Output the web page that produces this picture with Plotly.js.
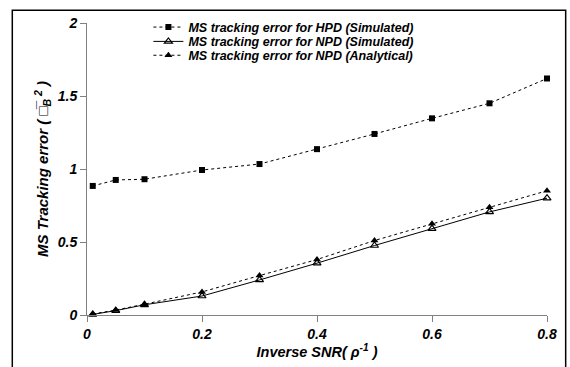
<!DOCTYPE html>
<html>
<head>
<meta charset="utf-8">
<script src="https://cdn.plot.ly/plotly-3.0.1.min.js"></script>
<style>
html,body{margin:0;padding:0;background:#fff;}
#chart{width:570px;height:367px;}
</style>
</head>
<body>
<div id="chart"></div>
<script>
// Data
var inverseSNR = [0.01, 0.05, 0.1, 0.2, 0.3, 0.4, 0.5, 0.6, 0.7, 0.8];
var hpdSimulated = [0.884, 0.925, 0.93, 0.993, 1.034, 1.136, 1.24, 1.347, 1.45, 1.62];
var npdSimulated = [0.004, 0.03, 0.07, 0.13, 0.24, 0.355, 0.476, 0.591, 0.706, 0.80];
var npdAnalytical = [0.007, 0.034, 0.074, 0.158, 0.27, 0.38, 0.51, 0.625, 0.738, 0.851];
var seriesNames = [
  'MS tracking error for HPD (Simulated)',
  'MS tracking error for NPD (Simulated)',
  'MS tracking error for NPD (Analytical)'
];
var xTicks = [0, 0.2, 0.4, 0.6, 0.8];
var xTickLabels = ['0', '0.2', '0.4', '0.6', '0.8'];
var yTicks = [0, 0.5, 1, 1.5, 2];
var yTickLabels = ['0', '0.5', '1', '1.5', '2'];

var font = '"Liberation Sans", Arial, sans-serif';
var biFont = function (s) { return {family: font, size: s, weight: 'bold', style: 'italic', color: '#000'}; };

var traces = [
  {
    x: inverseSNR, y: hpdSimulated, name: seriesNames[0], legend: 'legend',
    mode: 'lines+markers', type: 'scatter', cliponaxis: false,
    line: {color: '#000', width: 1, dash: 'dot'},
    marker: {symbol: 'square', size: 6, color: '#000'}
  },
  {
    x: inverseSNR, y: npdSimulated, name: seriesNames[1], legend: 'legend2',
    mode: 'lines+markers', type: 'scatter', cliponaxis: false,
    line: {color: '#000', width: 1},
    marker: {symbol: 'triangle-up-open', size: 7, color: '#000', line: {width: 1.2}}
  },
  {
    x: inverseSNR, y: npdAnalytical, name: seriesNames[2], legend: 'legend3',
    mode: 'lines+markers', type: 'scatter', cliponaxis: false,
    line: {color: '#000', width: 1, dash: 'dot'},
    marker: {symbol: 'triangle-up', size: 7, color: '#000'}
  }
];

function legendAt(y) {
  return {
    x: 0.1335, y: y, xanchor: 'left', yanchor: 'middle',
    bgcolor: 'rgba(0,0,0,0)', borderwidth: 0,
    font: biFont(12.5), itemwidth: 30
  };
}

var layout = {
  width: 570, height: 367,
  margin: {l: 86.5, r: 23, t: 19.5, b: 52, pad: 0},
  paper_bgcolor: '#fff', plot_bgcolor: '#fff',
  showlegend: true,
  font: {family: font, color: '#000'},
  legend: legendAt(0.9848),
  legend2: legendAt(0.9357),
  legend3: legendAt(0.8883),
  xaxis: {
    range: [0, 0.8], tickvals: xTicks, ticktext: xTickLabels,
    showgrid: false, zeroline: false, showline: true, linecolor: '#808080', linewidth: 1,
    ticks: 'outside', ticklen: 6, tickcolor: '#808080',
    tickfont: biFont(14),
    title: {text: 'Inverse SNR( <i>ρ</i><sup>-1</sup> )', standoff: 5, font: biFont(14.5)}
  },
  yaxis: {
    range: [0, 2], tickvals: yTicks, ticktext: yTickLabels,
    showgrid: false, zeroline: false, showline: true, linecolor: '#808080', linewidth: 1,
    ticks: 'outside', ticklen: 6, tickcolor: '#808080',
    tickfont: biFont(14),
    title: {text: 'MS Tracking error ( □̅<sub>B</sub><sup> 2</sup> )', standoff: 5, font: biFont(15)}
  },
  shapes: [
    {type: 'rect', xref: 'paper', yref: 'paper',
     x0: -0.1624, x1: 1.0406, y0: -0.3, y1: 1.0433,
     line: {color: '#000', width: 1.5}, fillcolor: 'rgba(0,0,0,0)', layer: 'below'}
  ]
};

Plotly.newPlot('chart', traces, layout, {displayModeBar: false, staticPlot: true});
</script>
</body>
</html>
